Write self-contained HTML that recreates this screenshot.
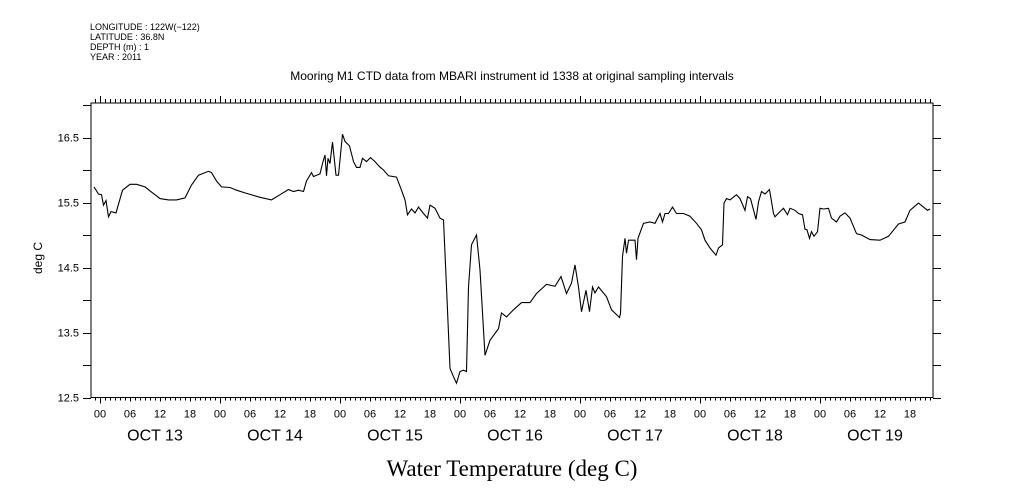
<!DOCTYPE html>
<html><head><meta charset="utf-8"><style>
html,body{margin:0;padding:0;background:#fff;}
svg{display:block;font-family:"Liberation Sans",sans-serif;}
</style></head><body>
<svg id="chart" width="1009" height="504" viewBox="0 0 1009 504" xmlns="http://www.w3.org/2000/svg">
<g font-size="9" fill="#000">
<text x="90" y="30">LONGITUDE : 122W(−122)</text>
<text x="90" y="40">LATITUDE : 36.8N</text>
<text x="90" y="50">DEPTH (m) : 1</text>
<text x="90" y="60">YEAR : 2011</text>
</g>
<text x="512" y="80" font-size="12" text-anchor="middle">Mooring M1 CTD data from MBARI instrument id 1338 at original sampling intervals</text>
<text x="0" y="0" font-size="12" text-anchor="middle" transform="translate(42,258) rotate(-90)">deg C</text>
<text x="512" y="476" font-family="Liberation Serif, serif" font-size="23" text-anchor="middle">Water Temperature (deg C)</text>
<g id="axes"></g>
<g id="marks"></g>
</svg>
<script>
const hours = [-1.2,-0.3,0.3,0.7,1.2,1.7,2.2,3.2,4.5,6,7.3,9,10.3,12,13.7,15.3,17,18.3,19.7,21.7,22.3,23.3,24.3,26,27.3,29.3,32,34.3,36,37.7,38.7,39.7,40.7,41.3,42.3,42.7,44,44.5,45,45.3,45.6,46,46.5,47.2,47.7,48.5,49,49.9,50.7,51.3,52,52.5,53.3,54.1,55,55.9,56.7,57.7,59.3,60.3,61,61.5,62.3,63,63.7,64.7,65.5,66,67,68,68.7,69.3,70,70.7,71.3,72,72.7,73.3,73.7,74.3,75.3,76,77,78,79.7,80.3,81.3,82.7,84.3,86,87.3,89.3,91,92.2,93.3,94.3,95,95.7,96.3,97.2,97.9,98.5,99,99.7,101.3,102.3,103.9,104.1,104.5,105,105.3,105.7,107,107.3,107.6,108.7,110,111,112,112.5,113,113.7,114.5,115.3,116.7,118,119.3,120.3,121,122,123.2,123.7,124.5,124.8,125.3,126,126.8,127.3,128,129,129.5,130.1,131.2,131.7,132.3,133,133.9,134.7,135,136,136.7,137.5,138,139,139.7,140.5,141,141.4,141.9,142.3,142.8,143.5,144,144.7,145.7,146.3,147.3,148,149,150,151.3,152.3,154,156,157.7,159.7,161,162,163.7,165,165.5,166];
const temps = [15.74,15.63,15.62,15.46,15.53,15.28,15.36,15.34,15.69,15.78,15.78,15.74,15.66,15.56,15.54,15.54,15.57,15.77,15.92,15.98,15.96,15.83,15.74,15.73,15.69,15.64,15.58,15.54,15.62,15.70,15.67,15.69,15.67,15.83,15.96,15.90,15.94,16.10,16.23,15.91,16.18,16.10,16.43,15.92,15.92,16.55,16.44,16.37,16.13,16.04,16.04,16.18,16.13,16.19,16.13,16.05,16.00,15.91,15.89,15.69,15.54,15.31,15.40,15.34,15.43,15.33,15.26,15.46,15.41,15.26,15.23,14.20,12.95,12.82,12.72,12.90,12.92,12.90,14.20,14.85,15.00,14.46,13.15,13.38,13.56,13.80,13.74,13.85,13.96,13.96,14.10,14.24,14.21,14.36,14.10,14.26,14.54,14.20,13.82,14.15,13.82,14.20,14.11,14.20,14.05,13.85,13.73,13.79,14.67,14.95,14.72,14.92,14.92,14.62,14.95,15.18,15.20,15.18,15.33,15.20,15.33,15.33,15.43,15.33,15.33,15.29,15.18,15.08,14.92,14.80,14.69,14.80,14.85,15.49,15.56,15.54,15.59,15.62,15.56,15.38,15.59,15.56,15.24,15.51,15.67,15.63,15.70,15.33,15.28,15.36,15.41,15.31,15.41,15.38,15.33,15.31,15.09,15.08,14.95,15.05,14.98,15.05,15.41,15.40,15.41,15.26,15.20,15.29,15.34,15.26,15.02,15.00,14.93,14.92,14.98,15.17,15.20,15.38,15.49,15.41,15.38,15.40];
const yTickValues = [12.5,13.0,13.5,14.0,14.5,15.0,15.5,16.0,16.5,17.0];
const yTickLabels = ["12.5","13.5","14.5","15.5","16.5"];
const dayLabels = ["OCT 13","OCT 14","OCT 15","OCT 16","OCT 17","OCT 18","OCT 19"];
const hourLabels = ["00","06","12","18"];

const L=91,R=933,T=103,B=397.5;
const X0=100, PXH=5, Y125=397.5, PXD=65;
const xs = h => X0 + h*PXH;
const ys = v => Y125 - (v-12.5)*PXD;
const NS="http://www.w3.org/2000/svg";
const axes=document.getElementById('axes'), marks=document.getElementById('marks');
function mk(tag,attrs,parent){const e=document.createElementNS(NS,tag);for(const k in attrs)e.setAttribute(k,attrs[k]);parent.appendChild(e);return e;}

const frame=mk('rect',{x:L,y:T,width:R-L,height:B-T,fill:'none',stroke:'#000','stroke-width':1},axes);



let td="";
const hStart=Math.ceil((L-X0)/PXH), hEnd=Math.floor((R-X0)/PXH);
for(let h=hStart;h<=hEnd;h++){
  const x=Math.round(xs(h))+0.5;
  const bigB = h%24===0 ? 6 : (h%6===0?4:3);
  const bigT = h%24===0 ? 7 : 4;
  td+=`M${x},${B}v${bigB}M${x},${T}v-${bigT}`;
}
yTickValues.forEach(v=>{const y=Math.round(ys(v))+0.5; if(y<T-1)return; td+=`M${L},${y}h-8M${R},${y}h8`;});
const ticks=mk('path',{d:td,stroke:'#000','stroke-width':1,fill:'none'},axes);



yTickLabels.forEach(s=>{
  const t=mk('text',{x:L-12,y:ys(+s)+4,'font-size':11,'text-anchor':'end'},axes);
  t.textContent=s;
  
  
});
dayLabels.forEach((d,i)=>{
  hourLabels.forEach((hl,j)=>{
    const t=mk('text',{x:xs(i*24+j*6),y:B+20,'font-size':11,'text-anchor':'middle'},axes);
    t.textContent=hl;
    
    
  });
  const t=mk('text',{x:xs(i*24+11),y:B+43,'font-size':16,'text-anchor':'middle'},axes);
  t.textContent=d;
  
  
});

const pts=hours.map((h,i)=>xs(h).toFixed(1)+','+ys(temps[i]).toFixed(1)).join(' ');
const line=mk('polyline',{points:pts,fill:'none',stroke:'#000','stroke-width':1.1},marks);


</script>
</body></html>
